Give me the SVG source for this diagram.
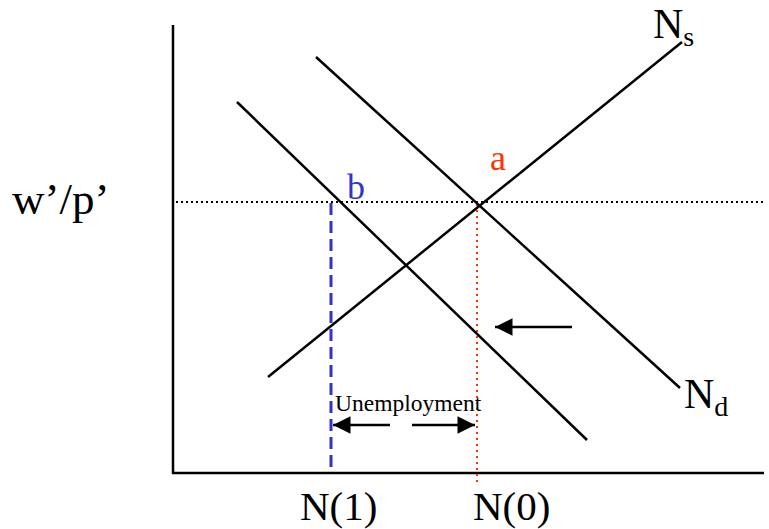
<svg xmlns="http://www.w3.org/2000/svg" width="769" height="529" viewBox="0 0 769 529">
<defs>
<marker id="ah" viewBox="0 0 10 10" refX="10" refY="5" markerWidth="8" markerHeight="7" orient="auto-start-reverse" markerUnits="strokeWidth"><path d="M0,0 L10,5 L0,10 z" fill="#000"/></marker>
</defs>
<style>
.ln{stroke:#000;stroke-width:2.5;fill:none}
.t{font-family:"Liberation Serif","Times New Roman",serif;fill:#000}
</style>
<rect width="769" height="529" fill="#fff"/>
<g id="axes">
<line class="ln" x1="173" y1="25" x2="173" y2="474" stroke-width="3"/>
<line class="ln" x1="172" y1="473" x2="764" y2="473" stroke-width="3"/>
</g>
<g id="connectors">
<line x1="176" y1="202" x2="764" y2="202" stroke="#000" stroke-width="2" stroke-dasharray="2,3"/>
<line x1="477" y1="204" x2="477" y2="485" stroke="#ff3300" stroke-width="2" stroke-dasharray="2,4"/>
<line x1="331" y1="203" x2="331" y2="473" stroke="#3333cc" stroke-width="3" stroke-dasharray="12,6"/>
<line class="ln" x1="268" y1="377" x2="682" y2="42"/>
<line class="ln" x1="316" y1="57" x2="680" y2="388"/>
<line class="ln" x1="237" y1="102" x2="587" y2="440"/>
<line class="ln" x1="572" y1="327" x2="495" y2="327" marker-end="url(#ah)"/>
<line class="ln" x1="390" y1="425" x2="333" y2="425" marker-end="url(#ah)"/>
<line class="ln" x1="412" y1="425" x2="475" y2="425" marker-end="url(#ah)"/>
</g>
<g id="labels">
<text class="t" x="12" y="214" font-size="45">w’/p’</text>
<text class="t" x="347" y="199" font-size="36" style="fill:#3333cc">b</text>
<text class="t" x="490" y="170" font-size="36" style="fill:#ff3300">a</text>
<text class="t" x="653" y="38" font-size="42">N<tspan font-size="28" dy="8">s</tspan></text>
<text class="t" x="684" y="408" font-size="42">N<tspan font-size="28" dy="8">d</tspan></text>
<text class="t" x="335" y="411" font-size="23.5">Unemployment</text>
<text class="t" x="300" y="520" font-size="41">N(1)</text>
<text class="t" x="473" y="520" font-size="41">N(0)</text>
</g>
</svg>
